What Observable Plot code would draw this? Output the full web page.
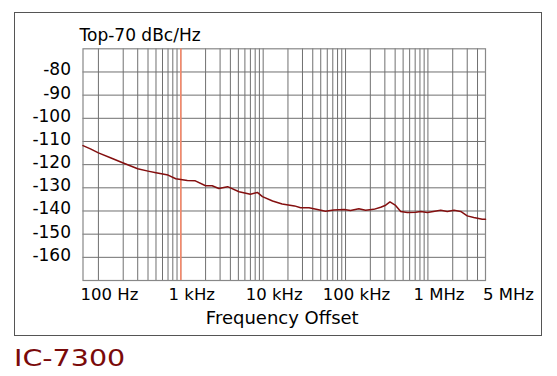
<!DOCTYPE html>
<html>
<head>
<meta charset="utf-8">
<script src="https://cdn.jsdelivr.net/npm/d3@7"></script>
<script src="https://cdn.jsdelivr.net/npm/@observablehq/plot@0.6"></script>
<style>
  html, body { margin: 0; padding: 0; background: #fff; }
  #wrap { position: relative; width: 557px; height: 376px; overflow: hidden; }
  #box { position: absolute; left: 14px; top: 12px; width: 528px; height: 324px; box-sizing: border-box; border: 1.5px solid #555; }
  #chart { position: absolute; left: 0; top: 0; }
  #model { position: absolute; left: 14px; top: 347px; font-family: "DejaVu Sans", sans-serif; font-size: 23px; color: #7a0a0a; transform: scaleX(1.24); transform-origin: left top; line-height: 1; white-space: nowrap; }
</style>
</head>
<body>
<div id="wrap">
  <div id="chart"></div>
  <div id="box"></div>
  <div id="model">IC-7300</div>
</div>
<script>
// Data
const freqHz = [65, 80, 100, 140, 200, 300, 400, 500, 700, 870, 1000, 1200, 1500, 2000, 2400, 2900, 3700, 5100, 7000, 8500, 9800, 13000, 17000, 24000, 28500, 36000, 45500, 57000, 72000, 96000, 115000, 145000, 175000, 220000, 267000, 307000, 346000, 405000, 467000, 563000, 710000, 816000, 984000, 1430000, 1720000, 2070000, 2500000, 3000000, 3600000, 4570000, 5000000];
const noiseDbc = [-111.8, -113.2, -114.9, -117.0, -119.3, -121.8, -122.8, -123.5, -124.5, -126.1, -126.4, -126.8, -127.0, -129.1, -129.1, -130.3, -129.5, -131.7, -132.8, -132.0, -133.8, -135.7, -137.0, -137.8, -138.6, -138.6, -139.4, -140.1, -139.6, -139.4, -139.8, -139.0, -139.7, -139.3, -138.4, -137.5, -136.1, -137.6, -140.2, -140.7, -140.5, -140.2, -140.7, -139.7, -140.2, -139.7, -140.2, -142.1, -142.8, -143.6, -143.6];

const yTicks = [-80, -90, -100, -110, -120, -130, -140, -150, -160];
const xTickValues = [100, 1000, 10000, 100000, 1000000];
const xTickLabels = ["100 Hz", "1 kHz", "10 kHz", "100 kHz", "1 MHz"];
const xEndTick = [5000000];
const xEndLabel = ["5 MHz"];
const markerFreq = [1000];
const gridMultipliers = [1, 2, 3, 4, 5, 6, 7, 8, 9];
const gridDecades = [100, 1000, 10000, 100000, 1000000];
const yLabel = "Top-70 dBc/Hz";
const xLabel = "Frequency Offset";

const gridX = gridDecades.flatMap(d => gridMultipliers.map(m => m * d)).filter(v => v < 5000000);
const data = freqHz.map((f, i) => ({f, v: noiseDbc[i]}));
const labelOf = new Map(xTickValues.map((v, i) => [v, xTickLabels[i]]));

const chart = Plot.plot({
  width: 557,
  height: 345,
  marginLeft: 82.5,
  marginRight: 72,
  marginTop: 48.3,
  marginBottom: 65,
  style: {fontFamily: "DejaVu Sans, sans-serif", fontSize: "17px", color: "#000", background: "transparent"},
  x: {type: "log", domain: [65, 5000000], label: null},
  y: {domain: [-170, -70], label: null},
  marks: [
    Plot.ruleX(gridX, {stroke: "#707070", strokeWidth: 1}),
    Plot.ruleY(yTicks, {stroke: "#707070", strokeWidth: 1}),
    Plot.frame({stroke: "#888", strokeWidth: 1.2}),
    Plot.ruleX(markerFreq, {stroke: "#f4896b", strokeWidth: 1.6}),
    Plot.line(data, {x: "f", y: "v", stroke: "#840f0f", strokeWidth: 1.5}),
    Plot.axisY({ticks: yTicks, tickSize: 0, tickPadding: 12, dy: -2, tickFormat: d => String(d), label: null, fontSize: 17}),
    Plot.axisX({ticks: xTickValues, tickSize: 0, tickPadding: 8, dx: 11, tickFormat: d => labelOf.get(d), label: null, fontSize: 16.5}),
    Plot.text(xEndTick, {x: d => d, text: (d, i) => xEndLabel[i], frameAnchor: "bottom", lineAnchor: "top", dx: 23, dy: 8, fontSize: 16.5}),
    Plot.text([yLabel], {text: d => d, frameAnchor: "top-left", textAnchor: "start", lineAnchor: "bottom", dx: -3.5, dy: -7.6, fontSize: 17}),
    Plot.text([xLabel], {text: d => d, frameAnchor: "bottom", lineAnchor: "bottom", dx: -2, dy: 43, fontSize: 18})
  ]
});
document.getElementById("chart").appendChild(chart);
</script>
</body>
</html>
